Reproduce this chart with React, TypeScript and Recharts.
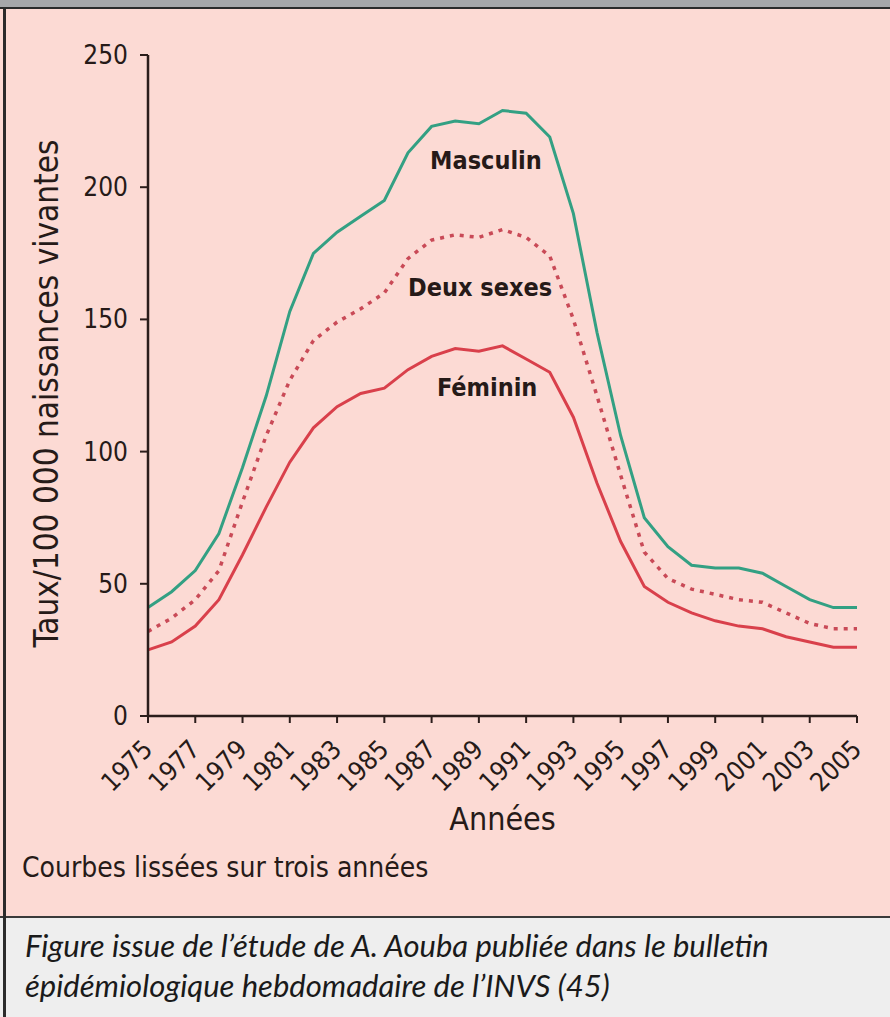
import React from 'react';
import { LineChart, Line, XAxis, YAxis, ReferenceDot, Label } from 'recharts';

const years = [1975, 1976, 1977, 1978, 1979, 1980, 1981, 1982, 1983, 1984, 1985, 1986, 1987, 1988, 1989, 1990, 1991, 1992, 1993, 1994, 1995, 1996, 1997, 1998, 1999, 2000, 2001, 2002, 2003, 2004, 2005];
const masculin = [41, 47, 55, 69, 94, 121, 153, 175, 183, 189, 195, 213, 223, 225, 224, 229, 228, 219, 190, 145, 106, 75, 64, 57, 56, 56, 54, 49, 44, 41, 41];
const deuxSexes = [32, 37, 44, 55, 81, 106, 127, 142, 149, 154, 160, 173, 180, 182, 181, 184, 181, 174, 150, 121, 91, 62, 52, 48, 46, 44, 43, 39, 35, 33, 33];
const feminin = [25, 28, 34, 44, 61, 79, 96, 109, 117, 122, 124, 131, 136, 139, 138, 140, 135, 130, 113, 88, 66, 49, 43, 39, 36, 34, 33, 30, 28, 26, 26];

const xTicks = [1975, 1977, 1979, 1981, 1983, 1985, 1987, 1989, 1991, 1993, 1995, 1997, 1999, 2001, 2003, 2005];
const yTicks = [0, 50, 100, 150, 200, 250];

const seriesNames = ['Masculin', 'Deux sexes', 'Féminin'];
const seriesLabelX = [1989.3, 1989.05, 1989.35];
const seriesLabelY = [207, 159, 121];

const yAxisTitle = 'Taux/100 000 naissances vivantes';
const xAxisTitle = 'Années';
const noteText = 'Courbes lissées sur trois années';
const captionLines = [
  'Figure issue de l\u2019étude de A. Aouba publiée dans le bulletin',
  'épidémiologique hebdomadaire de l\u2019INVS (45)',
];

const data = years.map((y, i) => ({
  year: y,
  masculin: masculin[i],
  deux: deuxSexes[i],
  feminin: feminin[i],
}));

const FONT = '"DejaVu Sans Condensed", "DejaVu Sans", sans-serif';
const TEXT = '#261a18';
const GREEN = '#33a083';
const RED = '#d9404b';
const DOT_RED = '#c94a57';

const XTick = (props: any) => {
  const { x, y, payload } = props;
  return (
    <text
      x={x + 6}
      y={y + 26}
      transform={`rotate(-45, ${x + 6}, ${y + 26})`}
      textAnchor="end"
      fontFamily={FONT}
      fontSize={26}
      fill={TEXT}
    >
      {payload.value}
    </text>
  );
};

const YTick = (props: any) => {
  const { x, y, payload } = props;
  return (
    <text x={x} y={y + 9} textAnchor="end" fontFamily={FONT} fontSize={26} fill={TEXT}>
      {payload.value}
    </text>
  );
};

const YTitle = (props: any) => {
  const vb = props.viewBox || {};
  const cx = 58;
  const cy = vb.y + vb.height / 2 + 8;
  return (
    <text
      x={cx}
      y={cy}
      transform={`rotate(-90, ${cx}, ${cy})`}
      textAnchor="middle"
      fontFamily={FONT}
      fontSize={33}
      fill={TEXT}
    >
      {yAxisTitle}
    </text>
  );
};

const XTitle = (props: any) => {
  const vb = props.viewBox || {};
  return (
    <text
      x={vb.x + vb.width / 2}
      y={vb.y + 114}
      textAnchor="middle"
      fontFamily={FONT}
      fontSize={32}
      fill={TEXT}
    >
      {xAxisTitle}
    </text>
  );
};

const makeSeriesLabel = (name: string) => (props: any) => {
  const vb = props.viewBox || {};
  return (
    <text
      x={vb.x + vb.width / 2}
      y={vb.y + vb.height / 2}
      textAnchor="middle"
      fontFamily={FONT}
      fontWeight="bold"
      fontSize={25}
      fill={TEXT}
    >
      {name}
    </text>
  );
};

export default function App() {
  return (
    <div style={{ position: 'absolute', left: 0, top: 0, width: 890, height: 1017, overflow: 'hidden', background: '#ffffff' }}>
      <div style={{ position: 'absolute', left: 0, top: 0, width: 890, height: 7, background: '#a6a7aa' }} />
      <div style={{ position: 'absolute', left: 0, top: 7, width: 890, height: 2, background: '#2b2b2b' }} />
      <div style={{ position: 'absolute', left: 0, top: 9, width: 890, height: 907, background: '#fcdad4' }} />
      <div style={{ position: 'absolute', left: 0, top: 916, width: 890, height: 2, background: '#3a3a3a' }} />
      <div style={{ position: 'absolute', left: 0, top: 918, width: 890, height: 99, background: '#eeeeee' }} />
      <div style={{ position: 'absolute', left: 3, top: 7, width: 3, height: 1010, background: '#2b2b2b' }} />

      <div
        style={{
          position: 'absolute',
          left: 22,
          top: 852,
          fontFamily: FONT,
          fontSize: 28,
          color: TEXT,
          whiteSpace: 'nowrap',
          lineHeight: '32px',
        }}
      >
        {noteText}
      </div>

      <div
        style={{
          position: 'absolute',
          left: 25,
          top: 925,
          fontFamily: 'Lato, "Open Sans", sans-serif',
          fontStyle: 'italic',
          fontSize: 31,
          color: '#1a1a1a',
          whiteSpace: 'nowrap',
          lineHeight: '40px',
        }}
      >
        {captionLines.map((l, i) => (
          <div key={i}>{l}</div>
        ))}
      </div>

      <div style={{ position: 'absolute', left: 0, top: 0 }}>
        <LineChart
          width={890}
          height={1017}
          data={data}
          margin={{ top: 55, right: 33, bottom: 171, left: 48 }}
        >
          <XAxis
            dataKey="year"
            type="number"
            domain={[1975, 2005]}
            ticks={xTicks}
            interval={0}
            height={130}
            tickSize={7}
            tickMargin={2}
            axisLine={{ stroke: '#2b1d1b', strokeWidth: 2.5 }}
            tickLine={{ stroke: '#2b1d1b', strokeWidth: 2 }}
            tick={<XTick />}
          >
            <Label content={<XTitle />} />
          </XAxis>
          <YAxis
            type="number"
            domain={[0, 250]}
            ticks={yTicks}
            interval={0}
            width={100}
            tickSize={8}
            tickMargin={12}
            axisLine={{ stroke: '#2b1d1b', strokeWidth: 2.5 }}
            tickLine={{ stroke: '#2b1d1b', strokeWidth: 2 }}
            tick={<YTick />}
          >
            <Label content={<YTitle />} />
          </YAxis>
          <Line
            type="linear"
            dataKey="masculin"
            stroke={GREEN}
            strokeWidth={3}
            dot={false}
            isAnimationActive={false}
          />
          <Line
            type="linear"
            dataKey="deux"
            stroke={DOT_RED}
            strokeWidth={3.5}
            strokeDasharray="4 6"
            dot={false}
            isAnimationActive={false}
          />
          <Line
            type="linear"
            dataKey="feminin"
            stroke={RED}
            strokeWidth={3}
            dot={false}
            isAnimationActive={false}
          />
          {seriesNames.map((n, i) => (
            <ReferenceDot
              key={n}
              x={seriesLabelX[i]}
              y={seriesLabelY[i]}
              r={1}
              fill="none"
              stroke="none"
              ifOverflow="visible"
              label={makeSeriesLabel(n)}
            />
          ))}
        </LineChart>
      </div>
    </div>
  );
}
